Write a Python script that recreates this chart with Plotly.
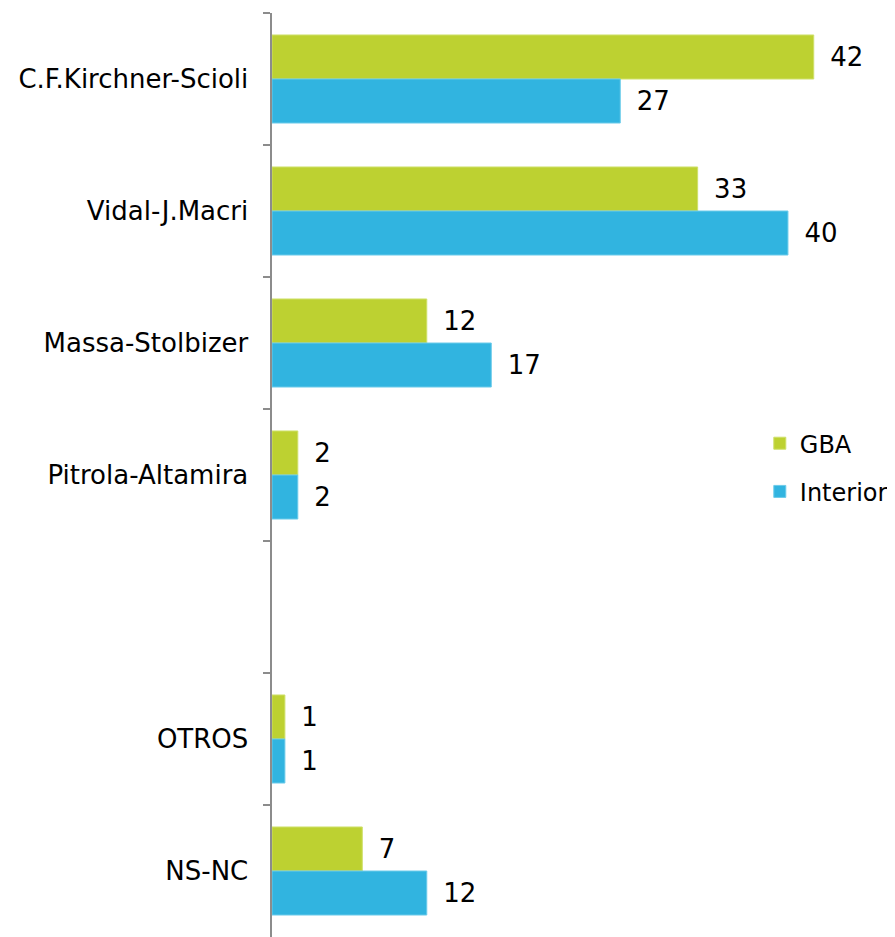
import plotly.graph_objects as go

categories = ["C.F.Kirchner-Scioli", "Vidal-J.Macri", "Massa-Stolbizer", "Pitrola-Altamira", " ", "OTROS", "NS-NC"]
gba = [42, 33, 12, 2, None, 1, 7]
interior = [27, 40, 17, 2, None, 1, 12]

font_family = "'DejaVu Sans', sans-serif"

def labels(vals):
    return [" \u2009" + str(v) if v is not None else "" for v in vals]

fig = go.Figure()
fig.add_trace(go.Bar(
    y=categories, x=gba, name="GBA", orientation="h",
    marker=dict(color="#BDD131", line=dict(color="#CFE06A", width=1)),
    text=labels(gba), textposition="outside", cliponaxis=False,
    textfont=dict(size=26, color="#000000", family=font_family),
    legendgroup="a",
))
fig.add_trace(go.Bar(
    y=categories, x=interior, name="Interior", orientation="h",
    marker=dict(color="#31B4E0", line=dict(color="#6CCBEA", width=1)),
    text=labels(interior), textposition="outside", cliponaxis=False,
    textfont=dict(size=26, color="#000000", family=font_family),
    legendgroup="b",
))

fig.update_layout(
    width=887, height=929,
    margin=dict(l=264, r=0, t=5, b=0, autoexpand=False),
    paper_bgcolor="white", plot_bgcolor="white",
    barmode="group", bargap=0.333, bargroupgap=0,
    font=dict(family=font_family, size=26, color="#000000"),
    showlegend=True,
    legend=dict(x=0.783, y=0.508, xanchor="left", yanchor="middle",
                font=dict(size=24), tracegroupgap=14, traceorder="grouped",
                itemwidth=30, bgcolor="rgba(0,0,0,0)"),
    xaxis=dict(range=[0, 48.3], visible=False, fixedrange=True, automargin=False),
    yaxis=dict(categoryorder="array", categoryarray=categories, autorange="reversed",
               automargin=False,
               showline=True, linecolor="#8C8C8C", linewidth=2,
               ticks="outside", ticklen=7, tickcolor="#8C8C8C", tickwidth=2,
               tickson="boundaries", showgrid=False, ticksuffix="  ",
               tickfont=dict(size=26, color="#000000", family=font_family)),
)

fig.write_html("out.html")
